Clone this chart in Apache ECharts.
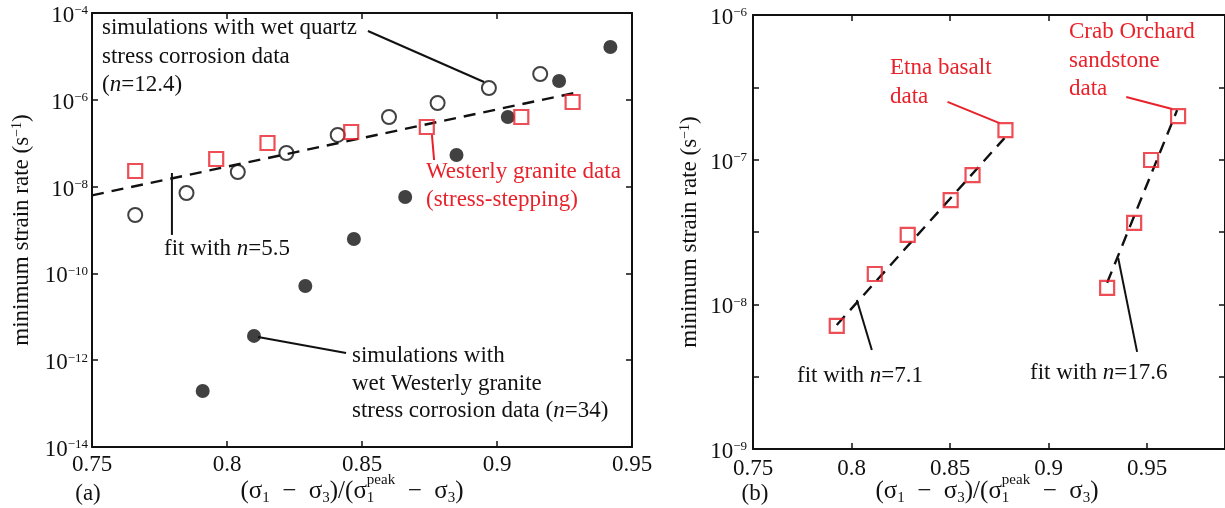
<!DOCTYPE html>
<html>
<head>
<meta charset="utf-8">
<script src="https://cdn.jsdelivr.net/npm/echarts@6/dist/echarts.min.js"></script>
<style>
  html, body { margin: 0; padding: 0; background: #fff; }
  #chart { width: 1225px; height: 508px; }
</style>
</head>
<body>
<div id="chart"></div>
<script>
// ---- data ----
// panel (a): simulations with wet quartz stress corrosion data (open circles)
const QUARTZ_X = [0.766, 0.785, 0.804, 0.822, 0.841, 0.860, 0.878, 0.897, 0.916]
const QUARTZ_RATE = [2.22e-9, 7.13e-9, 2.17e-8, 5.94e-8, 1.55e-7, 4.02e-7, 8.43e-7, 1.87e-6, 3.93e-6]
// panel (a): simulations with wet Westerly granite (filled circles)
const GRANITE_SIM_X = [0.791, 0.810, 0.829, 0.847, 0.866, 0.885, 0.904, 0.923, 0.942]
const GRANITE_SIM_RATE = [1.95e-13, 3.63e-12, 5.13e-11, 6.21e-10, 5.75e-9, 5.35e-8, 4.02e-7, 2.71e-6, 1.65e-5]
// panel (a): Westerly granite data, stress-stepping (red squares)
const WESTERLY_X = [0.766, 0.796, 0.815, 0.846, 0.874, 0.909, 0.928]
const WESTERLY_RATE = [2.29e-8, 4.33e-8, 1.01e-7, 1.81e-7, 2.36e-7, 4.02e-7, 8.89e-7]
// panel (b): Etna basalt and Crab Orchard sandstone (red squares)
const ETNA_X = [0.7925, 0.8118, 0.8285, 0.8503, 0.8614, 0.8781]
const ETNA_RATE = [7.1e-9, 1.62e-8, 3.02e-8, 5.26e-8, 7.83e-8, 1.60e-7]
const CRAB_X = [0.9297, 0.9434, 0.9520, 0.9657]
const CRAB_RATE = [1.30e-8, 3.66e-8, 9.95e-8, 2.00e-7]

// fitted lines (end points)
const FIT_A = [[0.75, 6.3e-9], [0.929, 1.45e-6]]
const FIT_ETNA = [[0.7925, 7.2e-9], [0.8776, 1.41e-7]]
const FIT_CRAB = [[0.9297, 1.41e-8], [0.9652, 2.2e-7]]

// leader lines of the annotations (data coordinates)
const LEAD_QUARTZ = [[0.8522, 3.85e-5], [0.8952, 2.57e-6]]
const LEAD_WESTERLY = [[0.8759, 1.55e-7], [0.8767, 4.1e-8]]
const LEAD_FIT_A = [[0.7796, 2.06e-8], [0.7796, 7.7e-10]]
const LEAD_GRANITE = [[0.8115, 3.43e-12], [0.8441, 1.47e-12]]
const LEAD_ETNA = [[0.8487, 2.51e-7], [0.8751, 1.79e-7]]
const LEAD_CRAB = [[0.9394, 2.71e-7], [0.9627, 2.24e-7]]
const LEAD_FIT_ETNA = [[0.8027, 1.07e-8], [0.8103, 4.84e-9]]
const LEAD_FIT_CRAB = [[0.9353, 2.09e-8], [0.9449, 4.69e-9]]

// axis ranges
const X_TICK_STEP = 0.05
const A_X_RANGE = [0.75, 0.95]
const A_Y_RANGE = [1e-14, 1e-4]
const B_X_RANGE = [0.75, 0.9895]
const B_Y_RANGE = [1e-9, 1e-6]

// ---- styles ----
const FONT = '"Liberation Serif", "Times New Roman", serif'
const INK = '#111111'
const RED = '#e8222b'
const BASE_SIZE = 23

const zip = (xs, ys) => xs.map((x, i) => [x, ys[i]])

const powerLabel = (value) => {
    const e = Math.log10(value)
    const r = Math.round(e)
    if (Math.abs(e - r) > 1e-6) return ''
    return '{b|10}{e|' + (r < 0 ? '\u2212' : '') + Math.abs(r) + '}'
}

const powerRich = {
    b: { fontFamily: FONT, fontSize: BASE_SIZE, color: INK },
    e: { fontFamily: FONT, fontSize: 13, color: INK, verticalAlign: 'top' }
}

const makeX = (gridIndex, range, top, margin) => ({
    type: 'value',
    gridIndex,
    position: top ? 'top' : 'bottom',
    min: range[0],
    max: range[1],
    interval: X_TICK_STEP,
    axisLine: { show: true, onZero: false, lineStyle: { color: INK, width: 2 } },
    axisTick: { show: true, inside: true, length: 6, lineStyle: { color: INK, width: 1.5 } },
    axisLabel: {
        show: !top,
        showMaxLabel: range[1] === 0.95,
        margin,
        fontFamily: FONT,
        fontSize: BASE_SIZE,
        color: INK
    },
    splitLine: { show: false }
})

const makeY = (gridIndex, range, base, right, margin) => ({
    type: 'log',
    logBase: base,
    gridIndex,
    position: right ? 'right' : 'left',
    min: range[0],
    max: range[1],
    axisLine: { show: true, lineStyle: { color: INK, width: 2 } },
    axisTick: { show: true, inside: true, length: 6, lineStyle: { color: INK, width: 1.5 } },
    axisLabel: {
        show: !right,
        margin,
        padding: [6, 0, 0, 0],
        formatter: powerLabel,
        rich: powerRich
    },
    splitLine: { show: false }
})

const scatter = (xi, data, kind) => {
    const s = {
        type: 'scatter',
        xAxisIndex: xi,
        yAxisIndex: xi,
        data,
        symbolSize: 14,
        z: 4,
        itemStyle: {}
    }
    if (kind === 'open') {
        s.symbol = 'circle'
        s.itemStyle = { color: 'rgba(0,0,0,0)', borderColor: INK, borderWidth: 2 }
    } else if (kind === 'filled') {
        s.symbol = 'circle'
        s.itemStyle = { color: INK }
    } else {
        s.symbol = 'rect'
        s.itemStyle = { color: 'rgba(0,0,0,0)', borderColor: RED, borderWidth: 2.2 }
        s.z = 5
    }
    return s
}

const segment = (xi, data, color, dashed) => ({
    type: 'line',
    xAxisIndex: xi,
    yAxisIndex: xi,
    data,
    symbol: 'none',
    silent: true,
    z: 3,
    lineStyle: {
        color,
        width: dashed ? 2.4 : 2,
        type: dashed ? [12, 8] : 'solid'
    }
})

// ---- x-axis title (σ1 − σ3)/(σ1^peak − σ3), laid out piece by piece ----
const measureCtx = document.createElement('canvas').getContext('2d')
const textWidth = (str, size) => {
    measureCtx.font = size + 'px ' + FONT
    return measureCtx.measureText(str).width
}

const stressTitle = (cx, cy) => {
    const MAIN = 25
    const SUB = 15
    const OP = '\u2002\u2212\u2002\u03c3'
    const parts = [
        { t: '(\u03c3' }, { t: '1', sub: true }, { t: OP }, { t: '3', sub: true },
        { t: ')/(\u03c3' }, { t: '1', sub: true, sup: 'peak' }, { t: OP },
        { t: '3', sub: true }, { t: ')' }
    ]
    parts.forEach(p => {
        p.w = p.sub ? textWidth(p.t, SUB) : textWidth(p.t, MAIN)
        if (p.sup) p.w = Math.max(p.w, textWidth(p.sup, SUB))
    })
    const total = parts.reduce((a, p) => a + p.w, 0)
    let x = cx - total / 2
    const els = []
    parts.forEach(p => {
        els.push({
            type: 'text', x, y: p.sub ? cy + 7 : cy,
            style: {
                text: p.t, fill: INK, font: (p.sub ? SUB : MAIN) + 'px ' + FONT,
                textAlign: 'left', textVerticalAlign: 'middle'
            }
        })
        if (p.sup) {
            els.push({
                type: 'text', x, y: cy - 11,
                style: {
                    text: p.sup, fill: INK, font: SUB + 'px ' + FONT,
                    textAlign: 'left', textVerticalAlign: 'middle'
                }
            })
        }
        x += p.w
    })
    return els
}

const label = (text, x, y, color, align) => ({
    type: 'text', x, y,
    style: {
        text, fill: color || INK,
        font: BASE_SIZE + 'px ' + FONT,
        textAlign: align || 'left',
        textVerticalAlign: 'middle',
        rich: {
            n: { fontFamily: FONT, fontSize: BASE_SIZE, fontStyle: 'italic', fill: color || INK }
        }
    }
})

const yTitle = (x, y) => ({
    type: 'text', x, y, rotation: Math.PI / 2,
    style: {
        text: '{t|minimum strain rate (s}{e|\u22121}{t|)}',
        textAlign: 'center',
        textVerticalAlign: 'middle',
        rich: {
            t: { fontFamily: FONT, fontSize: BASE_SIZE, fill: INK },
            e: { fontFamily: FONT, fontSize: 14, fill: INK, verticalAlign: 'top' }
        }
    }
})

const annotations = [
    // panel (a)
    label('simulations with wet quartz', 102, 28),
    label('stress corrosion data', 102, 57),
    label('({n|n}=12.4)', 102, 85),
    label('Westerly granite data', 426, 172, RED),
    label('(stress-stepping)', 426, 200, RED),
    label('fit with {n|n}=5.5', 164, 249),
    label('simulations with', 352, 356),
    label('wet Westerly granite', 352, 384),
    label('stress corrosion data ({n|n}=34)', 352, 411),
    label('(a)', 88, 494, INK, 'center'),
    // panel (b)
    label('Etna basalt', 890, 68, RED),
    label('data', 890, 97, RED),
    label('Crab Orchard', 1069, 32, RED),
    label('sandstone', 1069, 61, RED),
    label('data', 1069, 89, RED),
    label('fit with {n|n}=7.1', 797, 376),
    label('fit with {n|n}=17.6', 1030, 373),
    label('(b)', 755, 494, INK, 'center'),
    yTitle(22, 230),
    yTitle(690, 232),
    ...stressTitle(352, 491),
    ...stressTitle(987, 491)
]

const chart = echarts.init(document.getElementById('chart'), null, { renderer: 'canvas' })

chart.setOption({
    animation: false,
    backgroundColor: '#fff',
    grid: [
        { left: 92, top: 13, width: 540, height: 434 },
        { left: 753, top: 15, width: 473, height: 434 }
    ],
    xAxis: [
        makeX(0, A_X_RANGE, false, 6),
        makeX(1, B_X_RANGE, false, 8),
        makeX(0, A_X_RANGE, true, 6),
        makeX(1, B_X_RANGE, true, 8)
    ],
    yAxis: [
        makeY(0, A_Y_RANGE, 100, false, 4),
        makeY(1, B_Y_RANGE, Math.sqrt(10), false, 6),
        makeY(0, A_Y_RANGE, 100, true, 4),
        makeY(1, B_Y_RANGE, Math.sqrt(10), true, 6)
    ],
    series: [
        // panel (a)
        segment(0, FIT_A, INK, true),
        scatter(0, zip(QUARTZ_X, QUARTZ_RATE), 'open'),
        scatter(0, zip(GRANITE_SIM_X, GRANITE_SIM_RATE), 'filled'),
        scatter(0, zip(WESTERLY_X, WESTERLY_RATE), 'square'),
        segment(0, LEAD_QUARTZ, INK),
        segment(0, LEAD_WESTERLY, RED),
        segment(0, LEAD_FIT_A, INK),
        segment(0, LEAD_GRANITE, INK),
        // panel (b)
        segment(1, FIT_ETNA, INK, true),
        segment(1, FIT_CRAB, INK, true),
        scatter(1, zip(ETNA_X, ETNA_RATE), 'square'),
        scatter(1, zip(CRAB_X, CRAB_RATE), 'square'),
        segment(1, LEAD_ETNA, RED),
        segment(1, LEAD_CRAB, RED),
        segment(1, LEAD_FIT_ETNA, INK),
        segment(1, LEAD_FIT_CRAB, INK)
    ],
    graphic: annotations
})
</script>
</body>
</html>
